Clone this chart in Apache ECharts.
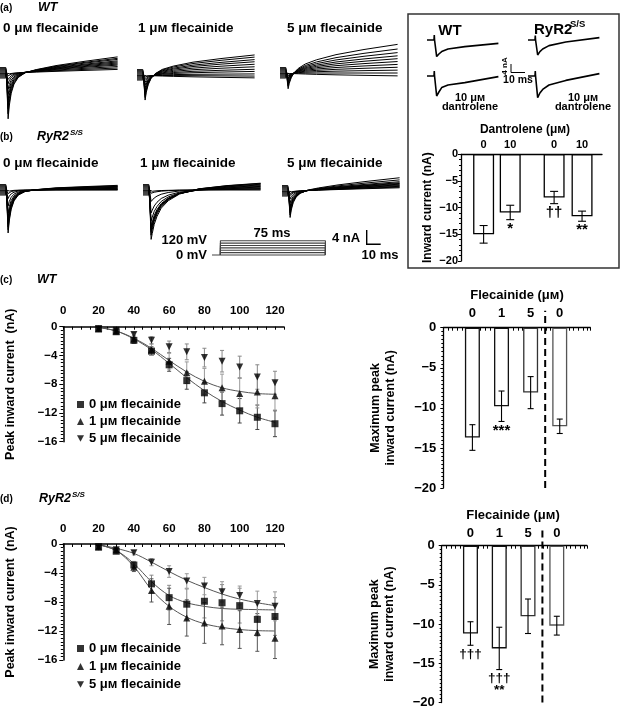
<!DOCTYPE html>
<html>
<head>
<meta charset="utf-8">
<script src="https://cdn.jsdelivr.net/npm/echarts@6/dist/echarts.min.js"></script>
<style>
  html, body { margin: 0; padding: 0; background: #fff; }
  #chart { width: 621px; height: 709px; }
</style>
</head>
<body>
<div id="chart"></div>
<script>
// ---- I-V data (c), (d): test potentials in mV, currents in nA ----
const voltages = [20, 30, 40, 50, 60, 70, 80, 90, 100, 110, 120];
const ivTicks = [0, 20, 40, 60, 80, 100, 120];

const wtMean0 = [-0.3, -0.7, -1.9, -3.4, -5.3, -7.5, -9.2, -10.7, -11.7, -12.6, -13.5];
const wtSem0  = [0.2, 0.3, 0.4, 0.6, 0.9, 1.2, 1.4, 1.6, 1.7, 1.7, 1.8];
const wtMean1 = [-0.3, -0.6, -1.7, -3.2, -4.8, -6.4, -7.6, -8.5, -9.3, -9.1, -9.6];
const wtSem1  = [0.2, 0.3, 0.5, 0.8, 1.1, 1.5, 1.8, 1.9, 2.1, 2.2, 2.0];
const wtMean5 = [-0.3, -0.5, -1.1, -1.9, -2.8, -3.5, -4.3, -4.8, -5.6, -7.0, -7.8];
const wtSem5  = [0.1, 0.2, 0.3, 0.5, 0.8, 1.1, 1.3, 1.5, 1.5, 1.7, 1.6];
const wtFit0  = [-0.2, -0.6, -1.7, -3.2, -5.1, -7.1, -8.9, -10.4, -11.6, -12.6, -13.3];
const wtFit1  = [-0.2, -0.6, -1.6, -3.0, -4.7, -6.3, -7.6, -8.5, -9.0, -9.3, -9.4];

const ryrMean0 = [-0.4, -1.0, -2.9, -5.5, -7.4, -8.3, -7.9, -8.1, -8.5, -10.4, -10.0];
const ryrSem0  = [0.2, 0.3, 0.5, 1.2, 1.7, 2.1, 2.3, 2.5, 2.4, 2.3, 2.6];
const ryrMean1 = [-0.4, -0.8, -3.2, -6.4, -8.6, -10.2, -10.9, -11.3, -11.8, -12.2, -13.0];
const ryrSem1  = [0.2, 0.3, 0.6, 1.6, 2.5, 2.5, 2.8, 2.6, 2.6, 2.6, 2.8];
const ryrMean5 = [-0.4, -0.8, -1.2, -2.5, -3.8, -5.1, -5.8, -6.6, -7.1, -8.2, -8.6];
const ryrSem5  = [0.1, 0.2, 0.3, 0.5, 0.8, 1.0, 1.2, 1.4, 1.3, 1.7, 2.0];
const ryrFit0  = [-0.3, -0.9, -2.7, -5.2, -7.1, -8.1, -8.6, -8.9, -9.0, -9.05, -9.1];
const ryrFit1  = [-0.3, -0.9, -3.1, -6.3, -8.6, -10.1, -11.0, -11.5, -11.8, -11.95, -12.0];
const ryrFit5  = [-0.2, -0.6, -1.3, -2.5, -3.8, -5.0, -6.0, -6.9, -7.6, -8.1, -8.5];

// ---- maximum peak current bars ----
const flecLabels = ['0', '1', '5', '0'];
const flecPos = [1, 2, 3, 4];
const flecSplit = 3.5;
const wtMaxMean = [-13.7, -9.8, -8.1, -12.3];
const wtMaxSem  = [1.6, 1.9, 2.0, 0.9];
const wtMaxMarks = ['', '***', '', ''];
const ryrMaxMean = [-11.2, -13.1, -9.0, -10.2];
const ryrMaxSem  = [1.5, 2.7, 2.2, 1.2];
const ryrMaxMarks = ['†††', '†††\n**', '', ''];

// ---- dantrolene inset bars ----
const dantLabels = ['0', '10', '0', '10'];
const dantPos = [1, 2, 3.65, 4.7];
const dantMean = [-15.0, -10.9, -8.1, -11.6];
const dantSem  = [1.65, 1.35, 1.15, 0.95];
const dantMarks = ['', '*', '††', '**'];

// ---- current trace families (a), (b): times in ms, currents in nA ----
const traceT    = [0, 4.2, 4.6, 5.2, 5.8, 6.6, 8, 10, 13, 18, 26, 40, 60, 84];
const holdMask  = [1, 1, 0, 0, 0, 0, 0, 0, 0, 0, 0, 0, 0, 0];
const fastDecay = [0, 0, 0, 0.5, 1, 0.72, 0.45, 0.26, 0.13, 0.05, 0.02, 0, 0, 0];
const slowDecay = [0, 0, 0, 0.5, 1, 0.88, 0.7, 0.54, 0.38, 0.24, 0.12, 0.04, 0.01, 0];
const linRamp   = [0, 0, 0, 0, 0, 0, 0.02, 0.05, 0.09, 0.16, 0.27, 0.46, 0.72, 1];
const concRamp  = [0, 0, 0, 0, 0, 0.03, 0.08, 0.15, 0.23, 0.34, 0.47, 0.64, 0.82, 1];
const traceHold = [-1.4, -1.1, -0.8, -0.5, -0.2, 0, 0.3, 0.6, 0.9, 1.2, 1.5];

const wtPeak0 = [-0.3, -0.8, -1.8, -3.0, -4.5, -6.0, -7.5, -8.8, -10.0, -11.4, -12.8];
const wtEnd0  = [1.0, 1.4, 1.8, 2.2, 2.5, 2.8, 3.1, 3.4, 3.8, 4.1, 4.5];
const wtPeak1 = [-0.3, -0.6, -1.2, -2.0, -2.8, -3.6, -4.3, -5.0, -5.7, -6.3, -7.0];
const wtEnd1  = [-0.8, -0.3, 0.3, 1.0, 1.6, 2.3, 3.0, 3.7, 4.3, 5.0, 5.6];
const wtPeak5 = [-0.2, -0.4, -0.7, -1.0, -1.4, -1.8, -2.2, -2.7, -3.2, -3.7, -4.4];
const wtEnd5  = [-0.8, 0, 0.8, 1.6, 2.4, 3.2, 4.0, 4.8, 5.7, 6.7, 8.0];
const ryrPeak0 = [-0.4, -1.0, -2.4, -4.5, -6.5, -7.8, -8.6, -9.5, -10.3, -11.1, -12.0];
const ryrEnd0  = [0, 0.1, 0.2, 0.3, 0.45, 0.6, 0.75, 0.9, 1.0, 1.15, 1.3];
const ryrPeak1 = [-0.4, -0.9, -3.2, -6.4, -8.6, -10.2, -10.9, -11.3, -11.8, -12.6, -13.8];
const ryrEnd1  = [0, 0.2, 0.4, 0.6, 0.8, 1.0, 1.2, 1.4, 1.6, 1.8, 1.9];
const ryrPeak5 = [-0.3, -0.7, -1.2, -2.2, -3.3, -4.2, -4.9, -5.5, -6.1, -6.7, -7.4];
const ryrEnd5  = [0.9, 1.1, 1.3, 1.5, 1.7, 1.9, 2.1, 2.3, 2.6, 3.1, 3.7];

// ---- voltage protocol (mV, ms) ----
const protocolLevels = [20, 40, 60, 80, 100, 120];
const protocolDur = 75;

// ---- inset example traces ----
const insetT       = [0, 5, 5.2, 5.4, 6.9, 8.5, 10.5, 15, 27, 51];
const insetWtCtrl  = [0, 0, 2.5, 0, -8.3, -7.0, -5.8, -4.5, -3.3, -1.7];
const insetWtDant  = [0, 0, 2.5, 0, -10.0, -8.0, -5.8, -4.5, -3.3, -0.3];
const insetRyrCtrl = [0, 0, 2.2, 0, -7.5, -5.8, -4.5, -2.8, -1.0, 1.2];
const insetRyrDant = [0, 0, 2.5, 0, -10.8, -8.5, -6.7, -4.5, -2.2, 1.2];

// ---------------------------------------------------------------
const FONT = '"Liberation Sans", Arial, sans-serif';
const MU = 'μᴍ';
const DOWN = 'path://M0,0L10,0L5,9Z';
const minus = v => (v < 0 ? '\u2212' + Math.abs(v) : String(v));
const labelAt = (pos, labels) => v => {
    const k = pos.findIndex(p => Math.abs(p - v) < 1e-6);
    return k < 0 ? '' : labels[k];
};

const grids = [], xAxes = [], yAxes = [], series = [], legends = [], graphics = [];

function addPanel(grid, xAxis, yAxis) {
    const i = grids.length;
    grids.push(grid);
    xAxes.push(Object.assign({ gridIndex: i }, xAxis));
    yAxes.push(Object.assign({ gridIndex: i }, yAxis));
    return i;
}
const hiddenAxis = (min, max) => ({ type: 'value', min, max, show: false });

function addLine(i, data, color, width, extra) {
    series.push(Object.assign({
        type: 'line', xAxisIndex: i, yAxisIndex: i, data,
        symbol: 'none', silent: true, clip: false,
        lineStyle: { color, width }
    }, extra || {}));
}

// trace family: 1.4 px per ms, 3.58 px per nA
const MS_PX = 1.4, NA_PX = 3.58;
function addTraceFamily(left, baseline, peaks, ends, decay, ramp) {
    const i = addPanel(
        { left, top: baseline - 10 * NA_PX, width: 84 * MS_PX, height: 25 * NA_PX },
        hiddenAxis(0, 84), hiddenAxis(-15, 10));
    peaks.forEach((p, n) => {
        addLine(i, traceT.map((t, k) => [t, traceHold[n] * holdMask[k] + p * decay[k] + ends[n] * ramp[k]]), '#000', 1);
    });
}

function addInsetTrace(left, baseline, values) {
    const i = addPanel({ left, top: baseline - 24, width: 52 * 1.4, height: 36 },
        hiddenAxis(0, 52), hiddenAxis(-12, 6));
    addLine(i, insetT.map((t, k) => [t, values[k]]), '#000', 1.6);
}

function errorBars(i, points, color, cap, width) {
    series.push({
        type: 'custom', xAxisIndex: i, yAxisIndex: i, data: points, silent: true, z: 3,
        renderItem: (params, api) => {
            const x = api.value(0), m = api.value(1), e = api.value(2);
            const hi = api.coord([x, m + e]), lo = api.coord([x, m - e]);
            const st = { stroke: color, lineWidth: width };
            return {
                type: 'group', children: [
                    { type: 'line', shape: { x1: hi[0], y1: hi[1], x2: lo[0], y2: lo[1] }, style: st },
                    { type: 'line', shape: { x1: hi[0] - cap, y1: hi[1], x2: hi[0] + cap, y2: hi[1] }, style: st },
                    { type: 'line', shape: { x1: lo[0] - cap, y1: lo[1], x2: lo[0] + cap, y2: lo[1] }, style: st }
                ]
            };
        }
    });
}

function marksBelow(i, pos, mean, sem, marks, size) {
    series.push({
        type: 'custom', xAxisIndex: i, yAxisIndex: i, silent: true, z: 4,
        data: pos.map((x, k) => [x, mean[k] - sem[k]]),
        renderItem: (params, api) => {
            const p = api.coord([api.value(0), api.value(1)]);
            return {
                type: 'text', x: p[0], y: p[1] + 3,
                style: {
                    text: marks[params.dataIndex], fill: '#000', align: 'center', verticalAlign: 'top',
                    font: 'bold ' + size + 'px ' + FONT, lineHeight: 12
                }
            };
        }
    });
}

const axisText = size => ({ fontSize: size, fontWeight: 'bold', color: '#000', fontFamily: FONT });
const blackLine = w => ({ show: true, onZero: false, lineStyle: { color: '#000', width: w } });

// ---------------- bar panels ----------------
function addBarPanel(box, xMin, xMax, pos, labels, mean, sem, marks, opt) {
    const i = addPanel(box, {
        type: 'value', position: 'top', min: xMin, max: xMax, interval: opt.tickStep,
        axisLine: blackLine(1.3),
        axisTick: { show: !!opt.tickStep, inside: true, length: 3, lineStyle: { color: '#000' } },
        axisLabel: Object.assign({ customValues: pos, formatter: labelAt(pos, labels), margin: opt.labelMargin }, axisText(opt.font)),
        splitLine: { show: false }
    }, {
        type: 'value', min: -20, max: 0, interval: 5,
        axisLine: blackLine(1.3),
        axisTick: { show: true, length: 3, lineStyle: { color: '#000' } },
        minorTick: { show: true, splitNumber: opt.minorSplit, length: 2, lineStyle: { color: '#000' } },
        axisLabel: Object.assign({ formatter: minus, margin: opt.yMargin }, axisText(opt.font)),
        splitLine: { show: false },
        name: opt.name, nameLocation: 'middle', nameGap: opt.nameGap, nameRotate: 90,
        nameTextStyle: Object.assign({ lineHeight: 15 }, axisText(opt.nameFont))
    });
    series.push({
        type: 'bar', xAxisIndex: i, yAxisIndex: i, barWidth: opt.barWidth, silent: true,
        data: pos.map((x, k) => ({
            value: [x, mean[k]],
            itemStyle: { color: '#fff', borderColor: opt.edges[k], borderWidth: 1.3 }
        }))
    });
    errorBars(i, pos.map((x, k) => [x, mean[k], sem[k]]), '#000', opt.cap, 1.1);
    marksBelow(i, pos, mean, sem, marks, opt.markFont);
    return i;
}

function addSplitLine(i, x) {
    series.push({
        type: 'custom', xAxisIndex: i, yAxisIndex: i, silent: true, z: 5, data: [[x]],
        renderItem: (params, api) => {
            const lo = api.coord([api.value(0), -20]);
            const hi = api.coord([api.value(0), 0]);
            return {
                type: 'line', shape: { x1: lo[0], y1: lo[1], x2: hi[0], y2: hi[1] - 17 },
                style: { stroke: '#000', lineWidth: 2, lineDash: [7, 4] }
            };
        }
    });
}

// ---------------- I-V panels ----------------
function addIvPanel(box, groups, legendPos, labelMargin) {
    const i = addPanel(box, {
        type: 'value', position: 'top', min: 0, max: 125, interval: 5,
        axisLine: blackLine(1.5),
        axisTick: { show: true, inside: true, length: 3, lineStyle: { color: '#000' } },
        axisLabel: Object.assign({ customValues: ivTicks, margin: labelMargin }, axisText(11.5)),
        splitLine: { show: false }
    }, {
        type: 'value', min: -16, max: 0, interval: 4,
        axisLine: blackLine(1.5),
        axisTick: { show: true, length: 4, lineStyle: { color: '#000' } },
        minorTick: { show: true, splitNumber: 8, length: 2.5, lineStyle: { color: '#000' } },
        axisLabel: Object.assign({ formatter: minus, margin: 6 }, axisText(11.5)),
        splitLine: { show: false },
        name: 'Peak inward current  (nA)', nameLocation: 'middle', nameGap: 46, nameRotate: 90,
        nameTextStyle: axisText(12.5)
    });
    const names = [];
    groups.forEach(g => {
        if (g.fit) addLine(i, [[20, -0.1]].concat(voltages.slice(1).map((v, k) => [v, g.fit[k + 1]])), '#555', 1, { smooth: 0.35, z: 2 });
        errorBars(i, voltages.map((v, k) => [v, g.mean[k], g.sem[k]]), g.errColor, 2, 1);
        series.push({
            type: 'scatter', name: g.name, xAxisIndex: i, yAxisIndex: i, silent: true, z: 4,
            symbol: g.symbol, symbolSize: g.size,
            itemStyle: { color: '#000' },
            data: voltages.map((v, k) => [v, g.mean[k]])
        });
        names.push(g.name);
    });
    const text = {};
    groups.forEach(g => { text[g.name] = g.label; });
    legends.push({
        left: legendPos[0], top: legendPos[1], orient: 'vertical', itemGap: legendPos[2],
        itemWidth: 7, itemHeight: 7, selectedMode: false, data: names,
        formatter: n => text[n], textStyle: axisText(13), padding: 0
    });
}

// ---------------- text helper ----------------
function T(text, x, y, size, opt) {
    opt = opt || {};
    graphics.push({
        type: 'text', x, y, rotation: opt.rot || 0, silent: true,
        style: {
            text, fill: '#000', align: opt.align || 'left', verticalAlign: 'middle',
            font: (opt.italic ? 'italic ' : '') + 'bold ' + size + 'px ' + FONT
        }
    });
}

// ===== build =====
// (a) WT traces
addTraceFamily(0, 73, wtPeak0, wtEnd0, fastDecay, linRamp);
addTraceFamily(137, 75, wtPeak1, wtEnd1, fastDecay, concRamp);
addTraceFamily(280, 73, wtPeak5, wtEnd5, fastDecay, concRamp);
// (b) RyR2 S/S traces
addTraceFamily(0, 190, ryrPeak0, ryrEnd0, fastDecay, linRamp);
addTraceFamily(143, 190, ryrPeak1, ryrEnd1, slowDecay, linRamp);
addTraceFamily(282, 191, ryrPeak5, ryrEnd5, fastDecay, linRamp);

// voltage protocol
const pv = addPanel({ left: 212, top: 240.7, width: 81 * 1.4, height: 14.3 }, hiddenAxis(-6, 75), hiddenAxis(0, 120));
addLine(pv, [[-6, 0], [protocolDur, 0]], '#444', 1.1);
protocolLevels.forEach(v => addLine(pv, [[0, 0], [0, v], [protocolDur, v], [protocolDur, 0]], '#444', 1.1));

// inset example traces
addInsetTrace(427, 52, insetWtCtrl);
addInsetTrace(427, 88, insetWtDant);
addInsetTrace(528, 52, insetRyrCtrl);
addInsetTrace(528, 88, insetRyrDant);

// inset bar chart
addBarPanel({ left: 461, top: 154.3, width: 141, height: 106.7 }, 0.15, 5.45,
    dantPos, dantLabels, dantMean, dantSem, dantMarks,
    { font: 11, nameFont: 12, labelMargin: 4, yMargin: 3, minorSplit: 5, name: 'Inward current (nA)',
      nameGap: 13, barWidth: 21, cap: 4, markFont: 15, edges: ['#000', '#000', '#000', '#000'] });

// (c) WT I-V
addIvPanel({ left: 63.3, top: 326.7, width: 220.5, height: 115 }, [
    { name: 'c0', label: '0 ' + MU + ' flecainide', mean: wtMean0, sem: wtSem0, fit: wtFit0, symbol: 'rect', size: 7, errColor: '#444' },
    { name: 'c1', label: '1 ' + MU + ' flecainide', mean: wtMean1, sem: wtSem1, fit: wtFit1, symbol: 'triangle', size: 7, errColor: '#999' },
    { name: 'c5', label: '5 ' + MU + ' flecainide', mean: wtMean5, sem: wtSem5, fit: null, symbol: DOWN, size: 7, errColor: '#888' }
], [77, 398, 4], 10);

// (d) RyR2 S/S I-V
addIvPanel({ left: 63.3, top: 544, width: 220.5, height: 116 }, [
    { name: 'd0', label: '0 ' + MU + ' flecainide', mean: ryrMean0, sem: ryrSem0, fit: ryrFit0, symbol: 'rect', size: 7, errColor: '#888' },
    { name: 'd1', label: '1 ' + MU + ' flecainide', mean: ryrMean1, sem: ryrSem1, fit: ryrFit1, symbol: 'triangle', size: 7, errColor: '#555' },
    { name: 'd5', label: '5 ' + MU + ' flecainide', mean: ryrMean5, sem: ryrSem5, fit: ryrFit5, symbol: DOWN, size: 7, errColor: '#999' }
], [77, 642, 5], 9);

// (c) / (d) maximum peak bars
const edges = ['#111', '#111', '#333', '#555'];
const cb = addBarPanel({ left: 443.3, top: 327.7, width: 147, height: 160.3 }, 0, 5.05,
    flecPos, flecLabels, wtMaxMean, wtMaxSem, wtMaxMarks,
    { font: 13, nameFont: 12.5, labelMargin: 8, yMargin: 7, minorSplit: 10, tickStep: 0.16,
      name: 'Maximum peak\ninward current (nA)', nameGap: 45, barWidth: 15, cap: 3, markFont: 15, edges });
addSplitLine(cb, flecSplit);
const db = addBarPanel({ left: 441.7, top: 545.7, width: 145.3, height: 158.3 }, 0, 5.05,
    flecPos, flecLabels, ryrMaxMean, ryrMaxSem, ryrMaxMarks,
    { font: 13, nameFont: 12.5, labelMargin: 6, yMargin: 7, minorSplit: 10, tickStep: 0.16,
      name: 'Maximum peak\ninward current (nA)', nameGap: 45, barWidth: 15, cap: 3, markFont: 13.5, edges });
addSplitLine(db, flecSplit);

// ---------------- texts ----------------
T('(a)', 0, 8, 10);
T('WT', 38, 8, 12.5, { italic: true });
T('0 ' + MU + ' flecainide', 3, 28, 13.5);
T('1 ' + MU + ' flecainide', 138, 28, 13.5);
T('5 ' + MU + ' flecainide', 287, 28, 13.5);
T('(b)', 0, 137, 10);
T('RyR2', 37, 137, 12.5, { italic: true });
T('S/S', 70, 133, 8, { italic: true });
T('0 ' + MU + ' flecainide', 3, 163, 13.5);
T('1 ' + MU + ' flecainide', 140, 163, 13.5);
T('5 ' + MU + ' flecainide', 287, 163, 13.5);
T('120 mV', 207, 240, 13, { align: 'right' });
T('0 mV', 207, 255, 13, { align: 'right' });
T('75 ms', 272, 233, 13, { align: 'center' });
T('4 nA', 346, 238, 13, { align: 'center' });
T('10 ms', 380, 255, 13, { align: 'center' });
graphics.push({ type: 'polyline', silent: true, shape: { points: [[366.7, 230], [366.7, 244.3], [380.7, 244.3]] },
    style: { stroke: '#000', lineWidth: 1.4, fill: null } });

// inset box and labels
graphics.push({ type: 'rect', silent: true, shape: { x: 408, y: 14, width: 211, height: 254 },
    style: { fill: null, stroke: '#333', lineWidth: 1.5 } });
T('WT', 450, 31, 15, { align: 'center' });
T('RyR2', 534, 30, 15);
T('S/S', 570, 24, 9.5);
T('10 ' + MU, 470, 98, 11, { align: 'center' });
T('dantrolene', 470, 107, 11, { align: 'center' });
T('10 ' + MU, 583, 98, 11, { align: 'center' });
T('dantrolene', 583, 107, 11, { align: 'center' });
T('4 nA', 505, 66, 8, { align: 'center', rot: Math.PI / 2 });
T('10 ms', 518, 80, 10.5, { align: 'center' });
graphics.push({ type: 'polyline', silent: true, shape: { points: [[511, 64], [511, 72.5], [525, 72.5]] },
    style: { stroke: '#000', lineWidth: 1, fill: null } });
T('Dantrolene (' + MU + ')', 525, 130, 12, { align: 'center' });

// (c), (d)
T('(c)', 0, 280, 10);
T('WT', 37, 280, 12.5, { italic: true });
T('Flecainide (' + MU + ')', 517, 295, 13, { align: 'center' });
T('(d)', 0, 499, 10);
T('RyR2', 39, 499, 12.5, { italic: true });
T('S/S', 72, 495, 8, { italic: true });
T('Flecainide (' + MU + ')', 513, 515, 13, { align: 'center' });

const chart = echarts.init(document.getElementById('chart'));
chart.setOption({
    animation: false,
    backgroundColor: '#fff',
    textStyle: { fontFamily: FONT },
    grid: grids,
    xAxis: xAxes,
    yAxis: yAxes,
    legend: legends,
    series: series,
    graphic: graphics
});
</script>
</body>
</html>
